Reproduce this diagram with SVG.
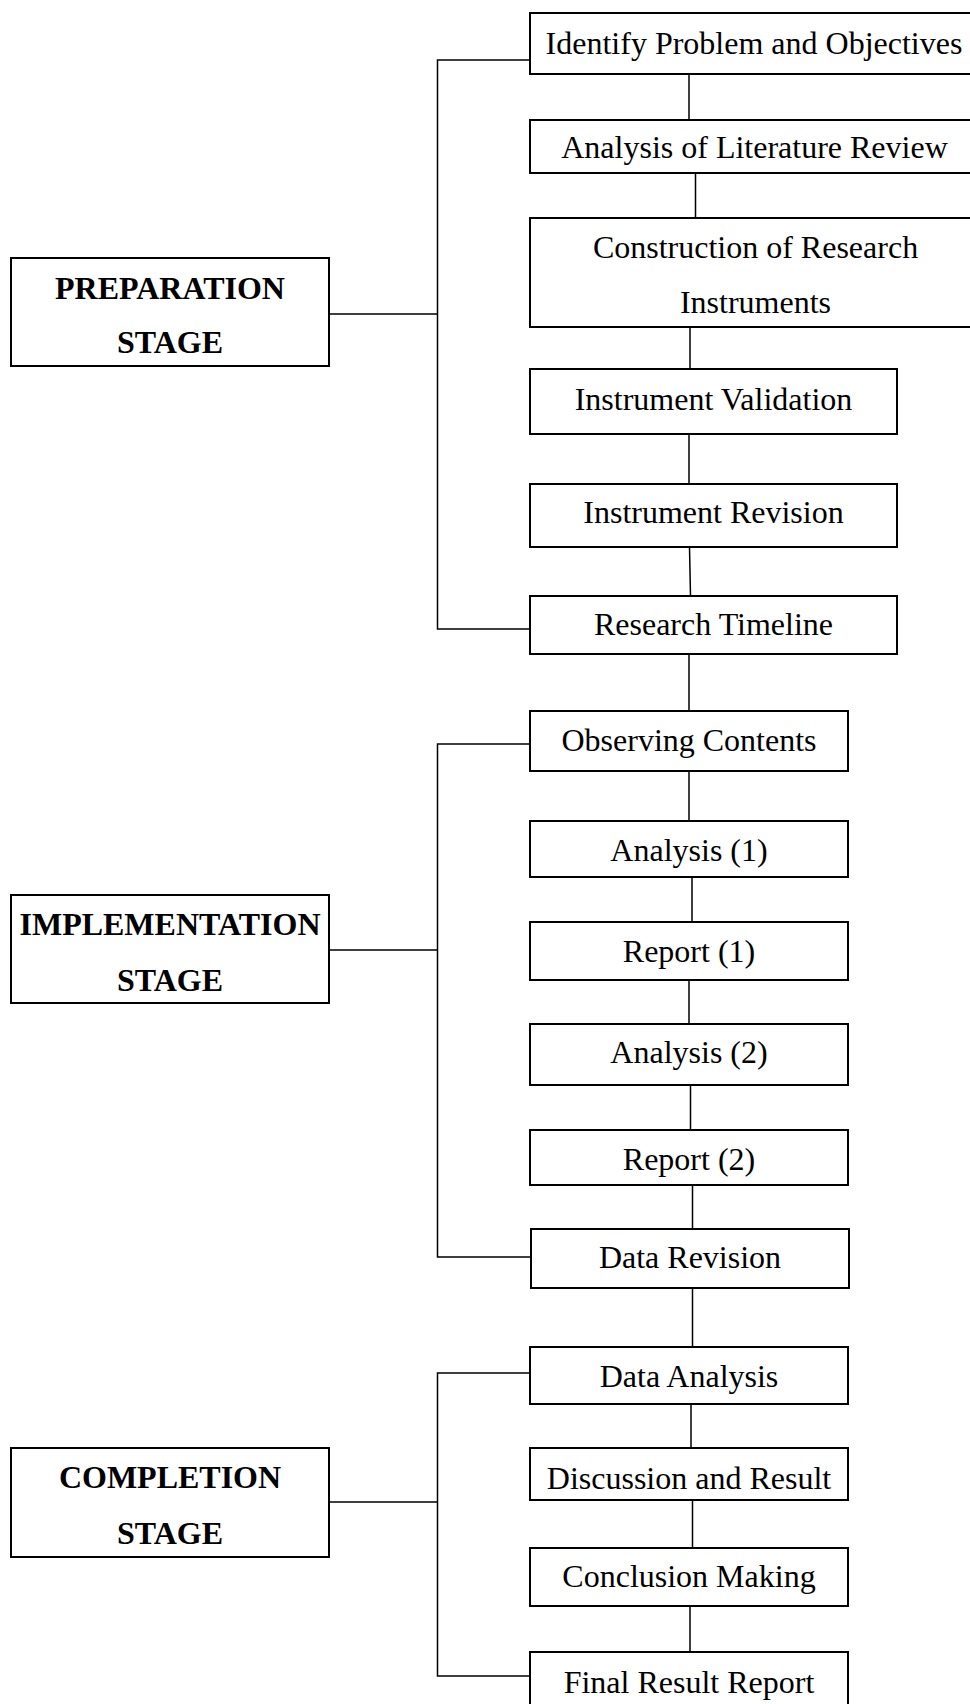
<svg xmlns="http://www.w3.org/2000/svg" width="970" height="1704" viewBox="0 0 970 1704">
<style>
.box{fill:#fff;stroke:#000;stroke-width:2}
.ln{fill:none;stroke:#000;stroke-width:1.5}
.t{font-family:"Liberation Serif","Times New Roman",serif;font-size:32px;fill:#000;text-anchor:middle}
.b{font-weight:bold}
</style>
<rect width="970" height="1704" fill="#fff"/>
<g id="connectors">
<path class="ln" d="M689 74V120M695.5 173V218M690 327V369M689 434V484M689.5 547L690.5 596M689 654V711M689 771V821M692 877V922M689 980V1024M690.5 1085V1130M692.5 1185V1229M692.5 1288V1347M691 1404V1448M692.5 1500V1548M690 1606V1652"/>
<path class="ln" d="M530 60H437.5V629H530M329 314H437.5"/>
<path class="ln" d="M530 744H437.5V1257H531M329 950H437.5"/>
<path class="ln" d="M530 1373H437.5V1676H530M329 1502H437.5"/>
</g>
<g id="preparation"><rect class="box" x="11" y="258" width="318" height="108"/><text class="t b" x="170" y="299">PREPARATION</text><text class="t b" x="170" y="353">STAGE</text></g>
<g id="implementation"><rect class="box" x="11" y="895" width="318" height="108"/><text class="t b" x="170" y="935">IMPLEMENTATION</text><text class="t b" x="170" y="991">STAGE</text></g>
<g id="completion"><rect class="box" x="11" y="1448" width="318" height="109"/><text class="t b" x="170" y="1488">COMPLETION</text><text class="t b" x="170" y="1544">STAGE</text></g>
<g id="identify"><rect class="box" x="530" y="13" width="460" height="61"/><text class="t" x="754" y="54">Identify Problem and Objectives</text></g>
<g id="literature"><rect class="box" x="530" y="120" width="460" height="53"/><text class="t" x="754.5" y="158">Analysis of Literature Review</text></g>
<g id="construction"><rect class="box" x="530" y="218" width="460" height="109"/><text class="t" x="755.5" y="258">Construction of Research</text><text class="t" x="755.5" y="313">Instruments</text></g>
<g id="validation"><rect class="box" x="530" y="369" width="367" height="65"/><text class="t" x="713.5" y="410">Instrument Validation</text></g>
<g id="revision"><rect class="box" x="530" y="484" width="367" height="63"/><text class="t" x="713.5" y="523">Instrument Revision</text></g>
<g id="timeline"><rect class="box" x="530" y="596" width="367" height="58"/><text class="t" x="713.5" y="635">Research Timeline</text></g>
<g id="observing"><rect class="box" x="530" y="711" width="318" height="60"/><text class="t" x="689" y="751">Observing Contents</text></g>
<g id="analysis1"><rect class="box" x="530" y="821" width="318" height="56"/><text class="t" x="689" y="861">Analysis (1)</text></g>
<g id="report1"><rect class="box" x="530" y="922" width="318" height="58"/><text class="t" x="689" y="962">Report (1)</text></g>
<g id="analysis2"><rect class="box" x="530" y="1024" width="318" height="61"/><text class="t" x="689" y="1063">Analysis (2)</text></g>
<g id="report2"><rect class="box" x="530" y="1130" width="318" height="55"/><text class="t" x="689" y="1170">Report (2)</text></g>
<g id="datarevision"><rect class="box" x="531" y="1229" width="318" height="59"/><text class="t" x="690" y="1268">Data Revision</text></g>
<g id="dataanalysis"><rect class="box" x="530" y="1347" width="318" height="57"/><text class="t" x="689" y="1387">Data Analysis</text></g>
<g id="discussion"><rect class="box" x="530" y="1448" width="318" height="52"/><text class="t" x="689" y="1489">Discussion and Result</text></g>
<g id="conclusion"><rect class="box" x="530" y="1548" width="318" height="58"/><text class="t" x="689" y="1587">Conclusion Making</text></g>
<g id="final"><rect class="box" x="530" y="1652" width="318" height="70"/><text class="t" x="689" y="1693">Final Result Report</text></g>
</svg>
